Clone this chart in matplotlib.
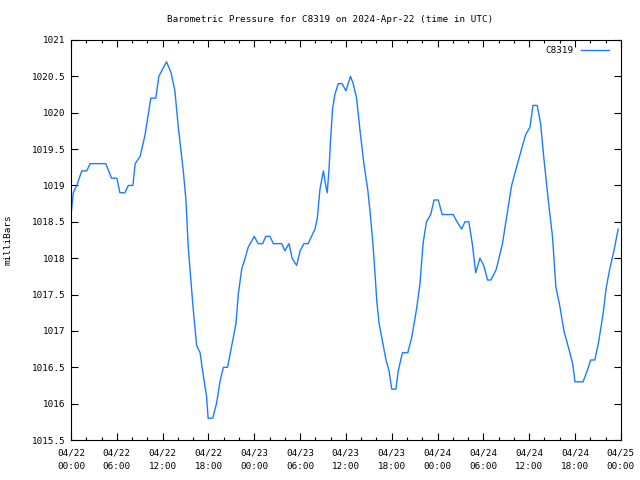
import matplotlib
matplotlib.use('Agg')
import matplotlib.pyplot as plt
from matplotlib.ticker import MultipleLocator

# hours since 04/22 00:00 UTC and pressure (mbar)
hours = [0.0, 0.3, 0.75, 1.4, 2.05, 2.5, 4.55, 5.3, 6.0, 6.4, 7.05, 7.5, 8.1, 8.4,
         9.05, 9.7, 10.45, 11.1, 11.5, 12.5, 13.1, 13.6, 14.05, 14.7, 15.05, 15.35,
         15.7, 16.0, 16.45, 16.9, 17.3, 17.75, 17.95, 18.55, 19.05, 19.5, 19.95,
         20.5, 21.05, 21.6, 21.9, 22.35, 22.8, 23.2, 24.0, 24.5, 25.1, 25.5, 26.05,
         26.5, 27.6, 28.0, 28.55, 28.95, 29.55, 30.0, 30.5, 31.05, 31.5, 31.95,
         32.25, 32.6, 33.05, 33.35, 33.55, 33.8, 34.0, 34.25, 34.55, 35.0, 35.5,
         36.0, 36.6, 36.95, 37.4, 37.85, 38.35, 38.85, 39.15, 39.5, 39.8, 40.05,
         40.35, 40.8, 41.25, 41.65, 42.0, 42.55, 42.85, 43.4, 44.1, 44.6, 45.25,
         45.7, 46.1, 46.55, 47.1, 47.55, 48.1, 48.6, 50.05, 50.55, 51.15, 51.6,
         52.1, 52.55, 53.0, 53.55, 54.05, 54.55, 55.0, 55.7, 56.5, 57.1, 57.7,
         58.35, 59.0, 59.55, 60.1, 60.5, 61.05, 61.5, 61.9, 62.5, 63.05, 63.5,
         64.0, 64.55, 65.2, 65.7, 66.0, 67.05, 67.6, 68.05, 68.6, 69.1, 69.7,
         70.1, 70.55, 71.1, 71.65]
pressure = [1018.6, 1018.9, 1019.0, 1019.2, 1019.2, 1019.3, 1019.3, 1019.1, 1019.1,
            1018.9, 1018.9, 1019.0, 1019.0, 1019.3, 1019.4, 1019.7, 1020.2, 1020.2,
            1020.5, 1020.7, 1020.55, 1020.3, 1019.8, 1019.2, 1018.8, 1018.15,
            1017.7, 1017.3, 1016.8, 1016.7, 1016.4, 1016.1, 1015.8, 1015.8, 1016.0,
            1016.3, 1016.5, 1016.5, 1016.8, 1017.1, 1017.5, 1017.85, 1018.0,
            1018.15, 1018.3, 1018.2, 1018.2, 1018.3, 1018.3, 1018.2, 1018.2, 1018.1,
            1018.2, 1018.0, 1017.9, 1018.1, 1018.2, 1018.2, 1018.3, 1018.4, 1018.55,
            1018.95, 1019.2, 1019.0, 1018.9, 1019.25, 1019.65, 1020.05, 1020.25,
            1020.4, 1020.4, 1020.3, 1020.5, 1020.4, 1020.2, 1019.75, 1019.3,
            1018.95, 1018.65, 1018.25, 1017.8, 1017.4, 1017.1, 1016.85, 1016.6,
            1016.45, 1016.2, 1016.2, 1016.45, 1016.7, 1016.7, 1016.9, 1017.3,
            1017.65, 1018.2, 1018.5, 1018.6, 1018.8, 1018.8, 1018.6, 1018.6, 1018.5,
            1018.4, 1018.5, 1018.5, 1018.2, 1017.8, 1018.0, 1017.9, 1017.7, 1017.7,
            1017.85, 1018.2, 1018.6, 1019.0, 1019.25, 1019.5, 1019.7, 1019.8, 1020.1,
            1020.1, 1019.85, 1019.4, 1018.8, 1018.3, 1017.6, 1017.35, 1017.0,
            1016.75, 1016.55, 1016.3, 1016.3, 1016.45, 1016.6, 1016.6, 1016.85,
            1017.25, 1017.6, 1017.85, 1018.1, 1018.4]

xtick_hours = [0, 6, 12, 18, 24, 30, 36, 42, 48, 54, 60, 66, 72]
xtick_labels = ['04/22\n00:00', '04/22\n06:00', '04/22\n12:00', '04/22\n18:00',
                '04/23\n00:00', '04/23\n06:00', '04/23\n12:00', '04/23\n18:00',
                '04/24\n00:00', '04/24\n06:00', '04/24\n12:00', '04/24\n18:00',
                '04/25\n00:00']
yticks = [1015.5, 1016, 1016.5, 1017, 1017.5, 1018, 1018.5, 1019, 1019.5,
          1020, 1020.5, 1021]

plt.rcParams['font.family'] = ['DejaVu Sans Mono']
plt.rcParams['font.size'] = 6.7

fig = plt.figure(figsize=(6.4, 4.8), dpi=100)
ax = fig.add_axes([0.111, 0.0833, 0.859, 0.8334])

ax.plot(hours, pressure, color='#1a7cff', linewidth=1, label='C8319')

ax.set_xlim(0, 72)
ax.set_ylim(1015.5, 1021)
ax.set_xticks(xtick_hours)
ax.set_xticklabels(xtick_labels, linespacing=1.7)
ax.xaxis.set_minor_locator(MultipleLocator(2))
ax.set_yticks(yticks)
ax.set_yticklabels(['%g' % v for v in yticks])

ax.tick_params(which='major', direction='in', length=5, width=0.8,
               top=True, right=True, pad=4)
ax.tick_params(axis='x', which='major', pad=6)
ax.tick_params(which='minor', direction='in', length=2.5, width=0.8,
               top=True, right=False)
for s in ax.spines.values():
    s.set_linewidth(0.8)

fig.text(0.516, 0.96, 'Barometric Pressure for C8319 on 2024-Apr-22 (time in UTC)',
         ha='center', va='center', fontsize=6.7)
ax.set_ylabel('milliBars', fontsize=6.7, labelpad=14)

leg = ax.legend(loc='upper right', frameon=False, markerfirst=False,
                handlelength=3.0, borderaxespad=0.3, handletextpad=0.8,
                bbox_to_anchor=(0.99, 1.0))

fig.savefig('out.png', dpi=100)
